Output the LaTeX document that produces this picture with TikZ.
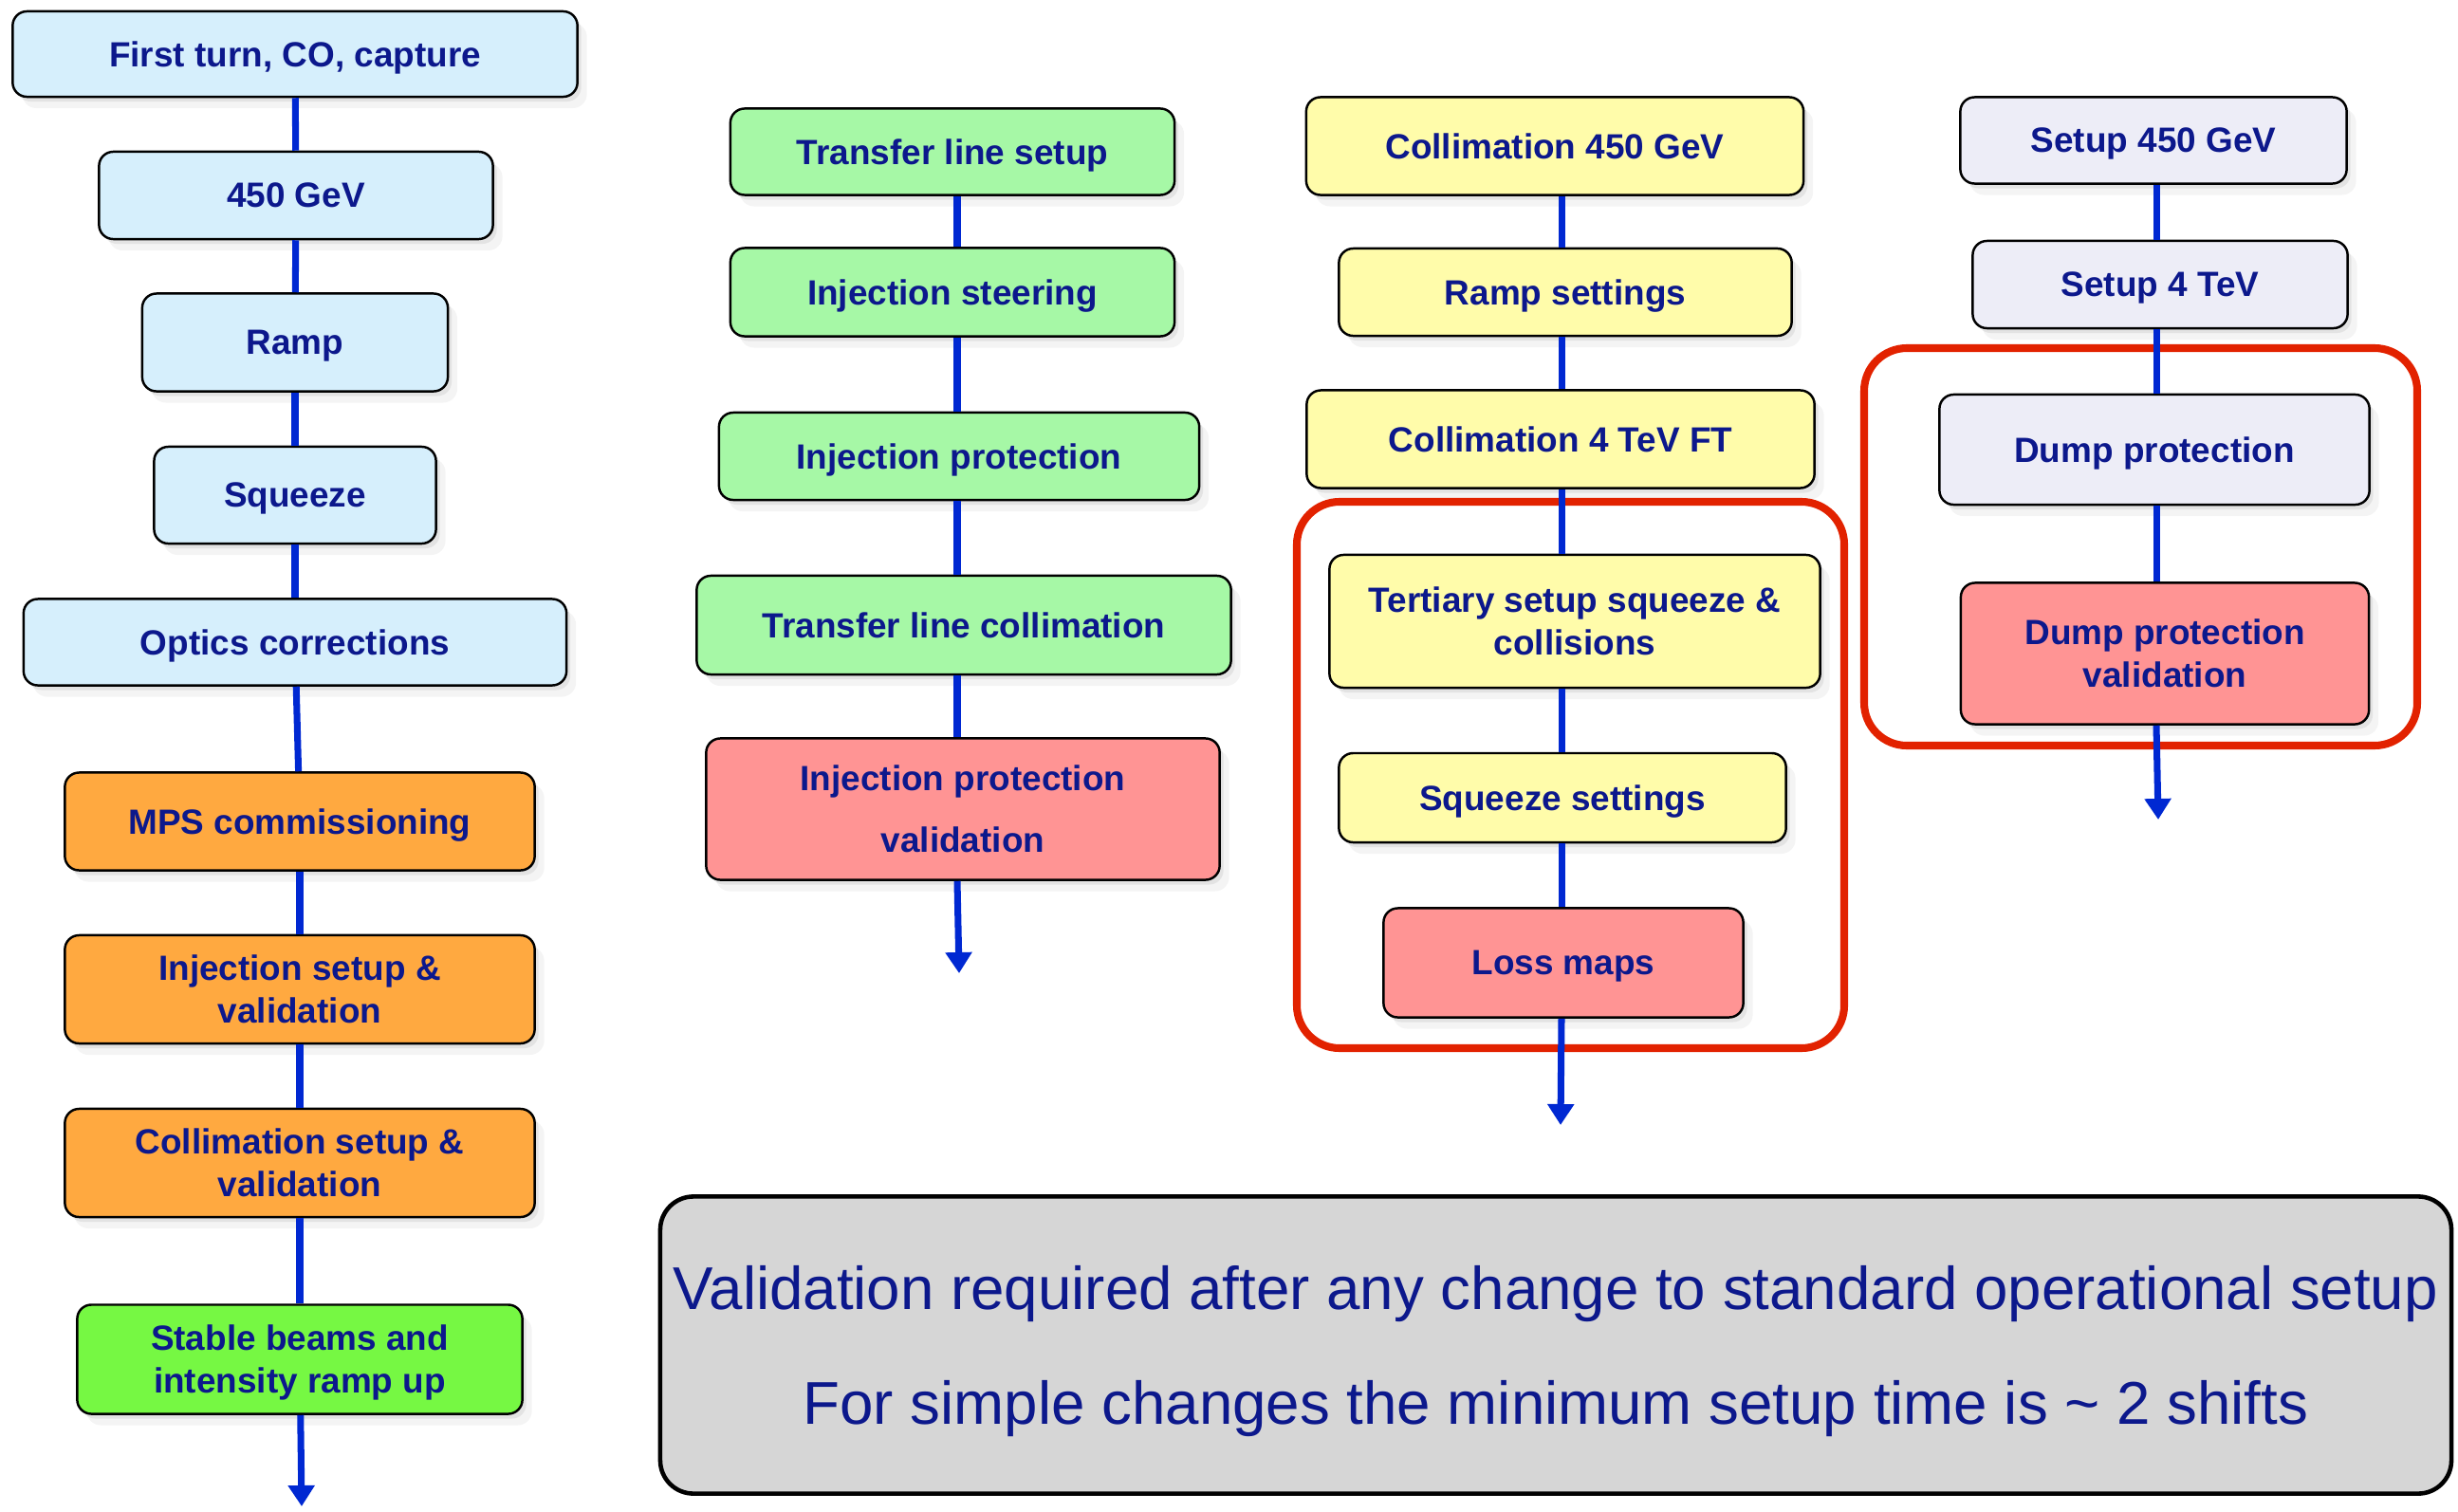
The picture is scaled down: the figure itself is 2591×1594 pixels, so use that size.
\documentclass[tikz,border=0pt]{standalone}
\usepackage{fontspec}
\setmainfont{Liberation Sans}
\usetikzlibrary{positioning}
\usetikzlibrary{shadows}
\usetikzlibrary{arrows.meta}

\definecolor{txtblue}{RGB}{12,24,140}
\definecolor{linkblue}{RGB}{0,40,210}
\definecolor{framered}{RGB}{226,34,0}
\definecolor{paleblue}{RGB}{214,239,252}
\definecolor{mpsorange}{RGB}{255,169,64}
\definecolor{palegreen}{RGB}{166,248,166}
\definecolor{stablegreen}{RGB}{118,248,67}
\definecolor{paleyellow}{RGB}{255,252,170}
\definecolor{palelilac}{RGB}{237,237,247}
\definecolor{valpink}{RGB}{255,148,148}
\definecolor{notegray}{RGB}{214,214,214}

\tikzset{
    stage/.style={draw, line width=0.7pt, rounded corners=0.15cm, align=center,
        text=txtblue, inner sep=2pt, text depth=0pt,
        font=\bfseries\fontsize{10.5}{12.8}\selectfont,
        drop shadow={opacity=0.14, shadow xshift=0.04cm, shadow yshift=-0.05cm},
        drop shadow={opacity=0.09, shadow xshift=0.10cm, shadow yshift=-0.12cm}},
    link/.style={draw=linkblue, line width=2pt},
    redframe/.style={draw=framered, line width=2.3pt, rounded corners=0.45cm},
    >={Triangle[length=0.22cm, width=0.27cm]}
}

\begin{document}
\begin{tikzpicture}[x=0.01cm, y=-0.01cm]
    \useasboundingbox (0, 0) rectangle (2591, 1594);

    % beam commissioning
    \path (311, 57) node [stage, fill=paleblue, minimum width=5.95cm, minimum height=0.90cm] (ft) {First turn, CO, capture};
    \path (312, 206) node [stage, fill=paleblue, minimum width=4.15cm, minimum height=0.92cm] (g450) {450 GeV};
    \path (311, 361) node [stage, fill=paleblue, minimum width=3.22cm, minimum height=1.03cm] (ramp) {Ramp};
    \path (311, 522) node [stage, fill=paleblue, minimum width=2.97cm, minimum height=1.02cm] (sq) {Squeeze};
    \path (311, 677) node [stage, fill=paleblue, minimum width=5.72cm, minimum height=0.91cm] (oc) {Optics corrections};
    \path (316, 866) node [stage, fill=mpsorange, minimum width=4.95cm, minimum height=1.03cm] (mps) {MPS commissioning};
    \path (316, 1043) node [stage, fill=mpsorange, minimum width=4.95cm, minimum height=1.14cm] (isv) {Injection setup \&\\validation};
    \path (316, 1226) node [stage, fill=mpsorange, minimum width=4.95cm, minimum height=1.14cm] (csv) {Collimation setup \&\\validation};
    \path (316, 1433) node [stage, fill=stablegreen, minimum width=4.69cm, minimum height=1.15cm] (sb) {Stable beams and\\intensity ramp up};
    \coordinate (end1) at (318, 1588);

    % injection
    \coordinate (x2) at (1009, 0);
    \path (1004, 160) node [stage, fill=palegreen, minimum width=4.68cm, minimum height=0.91cm] (tls) {Transfer line setup};
    \path (1004, 308) node [stage, fill=palegreen, minimum width=4.68cm, minimum height=0.93cm] (ist) {Injection steering};
    \path (1011, 481) node [stage, fill=palegreen, minimum width=5.06cm, minimum height=0.92cm] (ip) {Injection protection};
    \path (1016, 659) node [stage, fill=palegreen, minimum width=5.63cm, minimum height=1.04cm] (tlc) {Transfer line collimation};
    \path (1015, 853) node [stage, fill=valpink, minimum width=5.41cm, minimum height=1.49cm,
        font=\bfseries\fontsize{10.5}{18.5}\selectfont] (ipv) {Injection protection\\validation};
    \coordinate (end2) at (1011, 1026);

    % collimation
    \coordinate (x3) at (1646, 0);
    \path (1639, 154) node [stage, fill=paleyellow, minimum width=5.24cm, minimum height=1.03cm] (col450) {Collimation 450 GeV};
    \path (1650, 308) node [stage, fill=paleyellow, minimum width=4.77cm, minimum height=0.92cm] (rs) {Ramp settings};
    \path (1645, 463) node [stage, fill=paleyellow, minimum width=5.35cm, minimum height=1.03cm] (col4) {Collimation 4 TeV FT};
    \path (1660, 655) node [stage, fill=paleyellow, minimum width=5.17cm, minimum height=1.40cm] (tert) {Tertiary setup squeeze \&\\collisions};
    \path (1647, 841) node [stage, fill=paleyellow, minimum width=4.71cm, minimum height=0.94cm] (sqs) {Squeeze settings};
    \path (1648, 1015) node [stage, fill=valpink, minimum width=3.79cm, minimum height=1.15cm] (lm) {Loss maps};
    \coordinate (end3) at (1645, 1186);

    % beam dump
    \coordinate (x4) at (2273, 0);
    \path (2270, 148) node [stage, fill=palelilac, minimum width=4.07cm, minimum height=0.91cm] (su450) {Setup 450 GeV};
    \path (2277, 300) node [stage, fill=palelilac, minimum width=3.95cm, minimum height=0.92cm] (su4) {Setup 4 TeV};
    \path (2271, 474) node [stage, fill=palelilac, minimum width=4.53cm, minimum height=1.16cm] (dp) {Dump protection};
    \path (2282, 689) node [stage, fill=valpink, minimum width=4.30cm, minimum height=1.49cm] (dpv) {Dump protection\\validation};
    \coordinate (end4) at (2275, 864);

    \draw [redframe] (1367, 529) rectangle (1944, 1105);
    \draw [redframe] (1965, 367) rectangle (2548, 786);

    \draw [link] (ft) -- (g450);
    \draw [link] (g450) -- (ramp);
    \draw [link] (ramp) -- (sq);
    \draw [link] (sq) -- (oc);
    \draw [link] (oc) -- (mps);
    \draw [link] (mps) -- (isv);
    \draw [link] (isv) -- (csv);
    \draw [link] (csv) -- (sb);
    \draw [link, ->] (sb) -- (end1);

    \draw [link] (x2 |- tls.south) -- (x2 |- ist.north);
    \draw [link] (x2 |- ist.south) -- (x2 |- ip.north);
    \draw [link] (x2 |- ip.south) -- (x2 |- tlc.north);
    \draw [link] (x2 |- tlc.south) -- (x2 |- ipv.north);
    \draw [link, ->] (x2 |- ipv.south) -- (end2);

    \draw [link] (x3 |- col450.south) -- (x3 |- rs.north);
    \draw [link] (x3 |- rs.south) -- (x3 |- col4.north);
    \draw [link] (x3 |- col4.south) -- (x3 |- tert.north);
    \draw [link] (x3 |- tert.south) -- (x3 |- sqs.north);
    \draw [link] (x3 |- sqs.south) -- (x3 |- lm.north);
    \draw [link, ->] (x3 |- lm.south) -- (end3);

    \draw [link] (x4 |- su450.south) -- (x4 |- su4.north);
    \draw [link] (x4 |- su4.south) -- (x4 |- dp.north);
    \draw [link] (x4 |- dp.south) -- (x4 |- dpv.north);
    \draw [link, ->] (x4 |- dpv.south) -- (end4);

    \path (1640, 1418) node [draw, line width=1.3pt, fill=notegray, rounded corners=0.35cm,
        minimum width=18.87cm, minimum height=3.13cm, align=center, text=txtblue, text depth=0pt,
        font=\fontsize{18.1}{34.6}\selectfont] (note)
        {Validation required after any change to standard operational setup\\For simple changes the minimum setup time is \textasciitilde{} 2 shifts};
\end{tikzpicture}
\end{document}
